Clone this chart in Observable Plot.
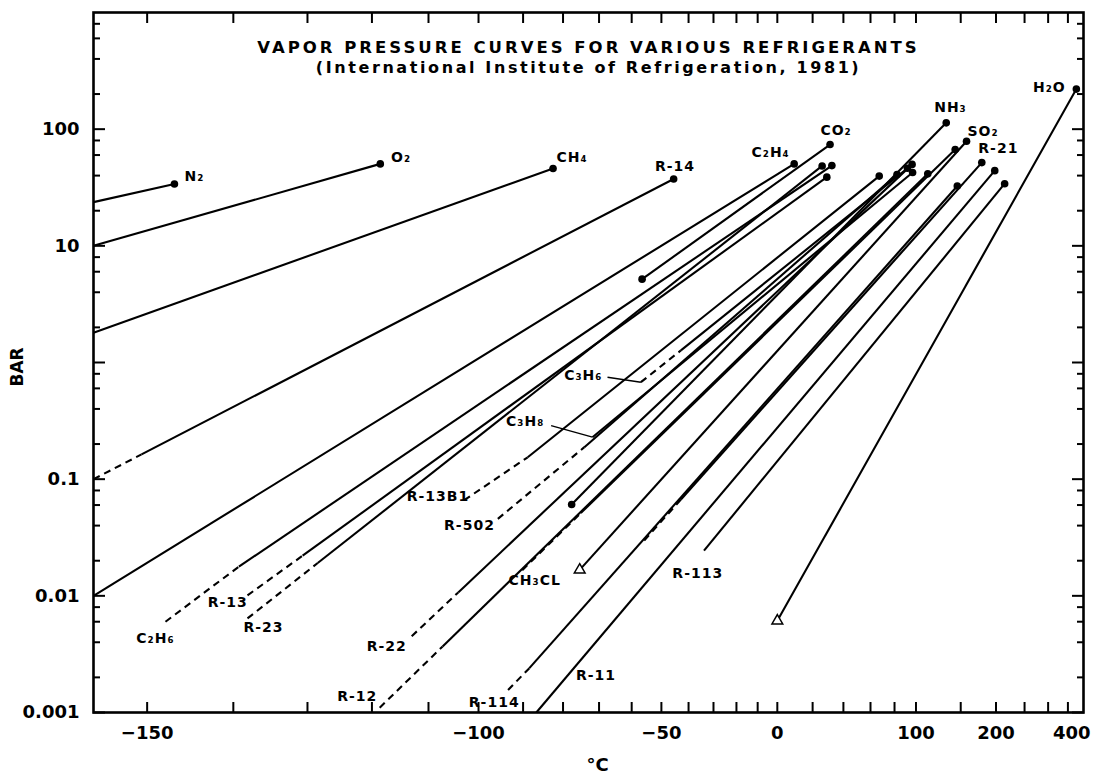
<!DOCTYPE html>
<html>
<head>
<meta charset="utf-8">
<script src="https://cdn.jsdelivr.net/npm/d3@7"></script>
<script src="https://cdn.jsdelivr.net/npm/@observablehq/plot@0.6"></script>
<style>
html,body{margin:0;padding:0;background:#fff;}
#chart svg{display:block;}
</style>
</head>
<body>
<div id="chart"></div>
<script>
// x is drawn on a reciprocal absolute-temperature scale (Clausius–Clapeyron form)
const inv = t => -1000 / (t + 273.15);

// ---- vapour pressure lines: start point, optional end of dashed part, critical point ----
const names  = ["N₂","O₂","CH₄","R-14","C₂H₄","C₂H₆","R-13","R-23","CO₂","R-13B1","R-502","C₃H₆","C₃H₈","R-22","R-12","NH₃","CH₃CL","SO₂","R-114","R-11","R-21","R-113","H₂O"];
const startT = [-155.5,-155.5,-155.5,-155.5,-155.5,-148,-138.2,-138.2,-56.6,-103,-95.8,-57,-71.9,-113.1,-118.7,-77.7,-90.2,-75.5,-93.5,-86.8,-55.9,-33.9,0.01];
const startP = [23.7,10,1.8,0.1,0.01,0.006,0.0101,0.0064,5.18,0.066,0.0457,0.678,0.229,0.00451,0.0011,0.0606,0.0166,0.0167,0.00156,0.001,0.0298,0.0244,0.00611];
const dashT  = [null,null,null,-150.6,null,-139.3,-130.7,-128.5,null,-88.9,-74.2,-42.9,null,-104.2,-107.3,null,-75.2,null,-88.5,null,-42.9,null,null];
const dashP  = [null,null,null,0.163,null,0.0178,0.0221,0.0191,null,0.154,0.188,1.27,null,0.0107,0.00368,null,0.0512,null,0.0024,null,0.067,null,null];
const critT  = [-147,-118.6,-82.6,-45.6,9.2,32.2,28.9,25.9,31,67,82.2,91.8,96.7,96.2,112,132.4,143.1,157.5,145.7,198,178.5,214.1,374.1];
const critP  = [33.9,50.4,46,37.4,50.4,48.7,38.8,48.4,73.8,39.6,40.8,46.2,42.5,49.9,41.4,113.3,66.8,78.8,32.6,44.1,51.7,34.1,220.6];

// ---- triple points ----
const tripleNames  = ["CO₂","NH₃","SO₂","H₂O"];
const tripleT      = [-56.6,-77.7,-75.5,0.01];
const tripleP      = [5.18,0.0606,0.0167,0.00611];
const tripleFilled = [true,true,false,false];

// ---- text labels ----
const labelNames = ["N₂","O₂","CH₄","R-14","C₂H₄","CO₂","NH₃","SO₂","R-21","H₂O","C₂H₆","R-13","R-23","R-13B1","R-502","C₃H₆","C₃H₈","CH₃CL","R-22","R-12","R-114","R-11","R-113"];
const labelT = [-144.7,-115,-77.6,-45.1,-3.5,35,137.4,180.2,203.7,302.9,-149.1,-140.7,-136.1,-108.2,-101.9,-74.5,-89.5,-87.2,-117.5,-122.4,-96.6,-70.9,-36.4];
const labelP = [39.3,57.1,57.7,47.8,62.5,97.3,153.4,95.5,67.6,227.5,0.00431,0.00868,0.0053,0.0717,0.0398,0.774,0.312,0.01353,0.0037,0.00138,0.00122,0.00208,0.0155];

// leader lines for the propylene / propane labels
const leaderFromT = [-67.5,-83.1];
const leaderFromP = [0.748,0.288];
const leaderToT   = [-57,-71.9];
const leaderToP   = [0.678,0.229];

// ---- axes ----
const xTickTemps  = [-150,-140,-130,-120,-110,-100,-90,-80,-70,-60,-50,-40,-30,-20,-10,0,20,40,60,80,100,150,200,250,300,350];
const xLabelTemps = [-150,-100,-50,0,100,200];
const xLabelText  = ["−150","−100","−50","0","100","200"];
const xEndLabel   = [400];
const yMajorTicks = [0.001,0.01,0.1,1,10,100];
const yMinorTicks = [0.002,0.004,0.006,0.008,0.02,0.04,0.06,0.08,0.2,0.4,0.6,0.8,2,4,6,8,20,40,60,80,200,400,600,800];
const yLabelVals  = [0.001,0.01,0.1,10,100];
const yLabelText  = ["0.001","0.01","0.1","10","100"];

const title    = "VAPOR PRESSURE CURVES FOR VARIOUS REFRIGERANTS";
const subtitle = "(International Institute of Refrigeration, 1981)";

// build segments
const solidSegs = [], dashSegs = [];
names.forEach((n, i) => {
  if (dashT[i] === null) {
    solidSegs.push([startT[i], startP[i], critT[i], critP[i]]);
  } else {
    dashSegs.push([startT[i], startP[i], dashT[i], dashP[i]]);
    solidSegs.push([dashT[i], dashP[i], critT[i], critP[i]]);
  }
});
const idx = d3.range(names.length);
const tIdx = d3.range(tripleNames.length);
const lIdx = d3.range(labelNames.length);
const ldIdx = d3.range(leaderFromT.length);
const linkOpts = {x1: d => inv(d[0]), y1: d => d[1], x2: d => inv(d[2]), y2: d => d[3], stroke: "#000"};

const chart = Plot.plot({
  width: 1098,
  height: 780,
  marginLeft: 93,
  marginRight: 15,
  marginTop: 12,
  marginBottom: 68,
  x: {type: "linear", domain: [inv(-155.5), inv(396)]},
  y: {type: "log", domain: [0.001, 1000]},
  style: {fontFamily: "'DejaVu Sans', 'Liberation Sans', sans-serif", fontWeight: "bold", fontSize: "14px", color: "#000", background: "#fff"},
  marks: [
    Plot.link(solidSegs, {...linkOpts, strokeWidth: 2.1}),
    Plot.link(dashSegs, {...linkOpts, strokeWidth: 2.1, strokeDasharray: "7 5"}),
    Plot.link(ldIdx, {x1: i => inv(leaderFromT[i]), y1: i => leaderFromP[i], x2: i => inv(leaderToT[i]), y2: i => leaderToP[i], stroke: "#000", strokeWidth: 1.4}),
    Plot.dot(idx, {x: i => inv(critT[i]), y: i => critP[i], r: 3.8, fill: "#000"}),
    Plot.dot(tIdx.filter(i => tripleFilled[i]), {x: i => inv(tripleT[i]), y: i => tripleP[i], r: 3.8, fill: "#000"}),
    Plot.dot(tIdx.filter(i => !tripleFilled[i]), {x: i => inv(tripleT[i]), y: i => tripleP[i], r: 4, symbol: "triangle", fill: "#fff", stroke: "#000", strokeWidth: 1.5}),
    Plot.text(lIdx, {x: i => inv(labelT[i]), y: i => labelP[i], text: i => labelNames[i], fontSize: 14}),
    // title block inside the frame
    Plot.text([title], {text: d => d, frameAnchor: "top", dy: 29, fontSize: 16.5}),
    Plot.text([subtitle], {text: d => d, frameAnchor: "top", dy: 49, fontSize: 16}),
    // ticks (inward)
    Plot.axisY(yMajorTicks, {anchor: "left", tickSize: -12, tickFormat: () => "", strokeWidth: 2}),
    Plot.axisY(yMinorTicks, {anchor: "left", tickSize: -7, tickFormat: () => "", strokeWidth: 2}),
    Plot.axisY(yMajorTicks, {anchor: "right", tickSize: -12, tickFormat: () => "", strokeWidth: 2}),
    Plot.axisY(yMinorTicks, {anchor: "right", tickSize: -7, tickFormat: () => "", strokeWidth: 2}),
    Plot.axisX(xTickTemps.map(inv), {anchor: "bottom", tickSize: -10, tickFormat: () => "", strokeWidth: 2}),
    Plot.axisX(xTickTemps.map(inv), {anchor: "top", tickSize: -10, tickFormat: () => "", strokeWidth: 2}),
    // tick labels
    Plot.text(yLabelVals, {y: d => d, text: (d, i) => yLabelText[i], frameAnchor: "left", textAnchor: "end", dx: -14, fontSize: 18}),
    Plot.text(xLabelTemps, {x: d => inv(d), text: (d, i) => xLabelText[i], frameAnchor: "bottom", lineAnchor: "top", dy: 14, fontSize: 18}),
    Plot.text(xEndLabel, {x: d => inv(d), text: d => String(d), frameAnchor: "bottom", lineAnchor: "top", dy: 14, dx: -13, fontSize: 18}),
    // axis titles
    Plot.text([1], {y: d => d, text: () => "BAR", frameAnchor: "left", rotate: -90, dx: -76, dy: 24, fontSize: 17}),
    Plot.text(["°C"], {text: d => d, frameAnchor: "bottom", dy: 58, dx: 9, fontSize: 18}),
    Plot.frame({stroke: "#000", strokeWidth: 2.6})
  ]
});

// letter spacing of the hand-lettered texts
const labelSet = new Set(labelNames);
d3.select(chart).selectAll("text").each(function () {
  const s = this.textContent;
  if (s === title) this.setAttribute("letter-spacing", "3px");
  else if (s === subtitle) this.setAttribute("letter-spacing", "2.6px");
  else if (labelSet.has(s)) this.setAttribute("letter-spacing", "1px");
});
document.getElementById("chart").appendChild(chart);
</script>
</body>
</html>
